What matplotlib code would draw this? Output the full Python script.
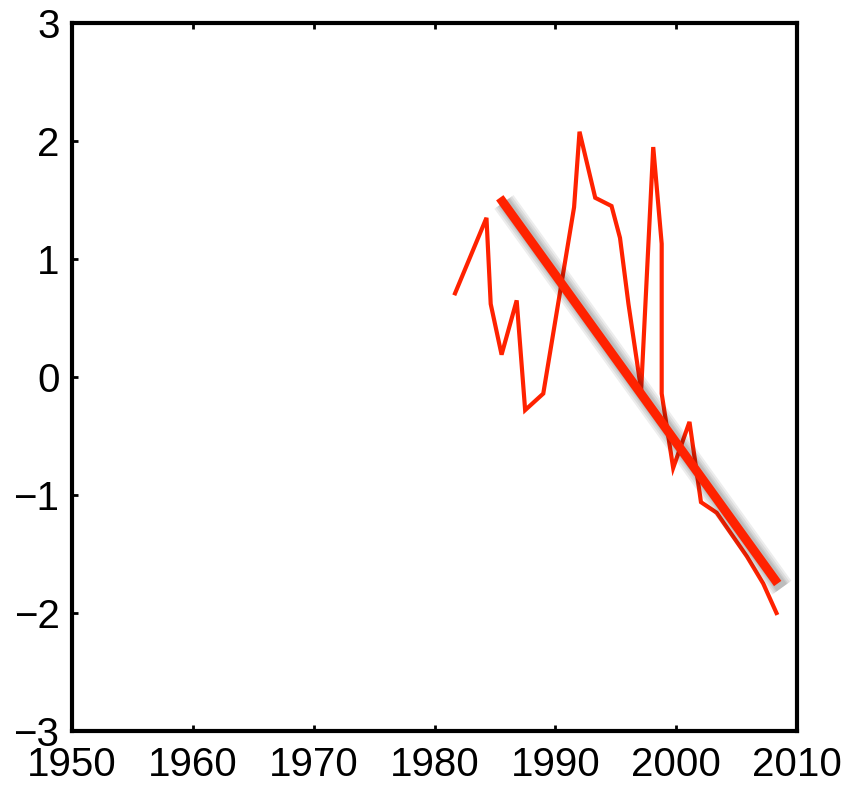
import matplotlib
matplotlib.use("Agg")
import matplotlib.pyplot as plt
import matplotlib.patheffects as pe

# values
years = [1981.7, 1984.3, 1984.65, 1985.55, 1986.8, 1987.5, 1989.0, 1991.55,
         1992.0, 1993.3, 1994.65, 1995.35, 1996.05, 1997.1, 1998.1, 1998.8,
         1998.8, 1999.75, 2001.1, 2002.05, 2003.35, 2005.85, 2007.2, 2008.3]
values = [0.71, 1.35, 0.62, 0.19, 0.65, -0.28, -0.14, 1.44,
          2.08, 1.52, 1.45, 1.18, 0.62, -0.11, 1.95, 1.13,
          -0.14, -0.77, -0.38, -1.06, -1.15, -1.52, -1.75, -2.0]

trend_years = [1985.4, 2008.4]
trend_values = [1.52, -1.75]

xticks = [1950, 1960, 1970, 1980, 1990, 2000, 2010]
yticks = [-3, -2, -1, 0, 1, 2, 3]

red = '#ff2200'

plt.rcParams['font.family'] = ['Liberation Sans', 'DejaVu Sans']

fig = plt.figure(figsize=(8.47, 7.86), dpi=100)
ax = fig.add_axes([0.085, 0.07, 0.856, 0.9005])

ax.plot(years, values, color=red, linewidth=3.0, solid_joinstyle='miter')

# soft drop shadow under the trend line
shadow = [pe.SimpleLineShadow(offset=(3, -3), shadow_color='black', alpha=0.07, linewidth=w)
          for w in (17, 14, 11, 9)]
ax.plot(trend_years, trend_values, color=red, linewidth=6.5,
        solid_capstyle='butt', path_effects=shadow + [pe.Normal()])

ax.set_xlim(1950, 2010)
ax.set_ylim(-3, 3)
ax.set_xticks(xticks)
ax.set_yticks(yticks)
ax.set_yticklabels(['\u22123', '\u22122', '\u22121', '0', '1', '2', '3'])

for s in ax.spines.values():
    s.set_linewidth(3)
ax.tick_params(direction='in', length=4, width=2, labelsize=29, top=True, right=False)
ax.tick_params(axis='y', pad=9)
ax.tick_params(axis='x', pad=11)

fig.savefig('out.png', dpi=100)
